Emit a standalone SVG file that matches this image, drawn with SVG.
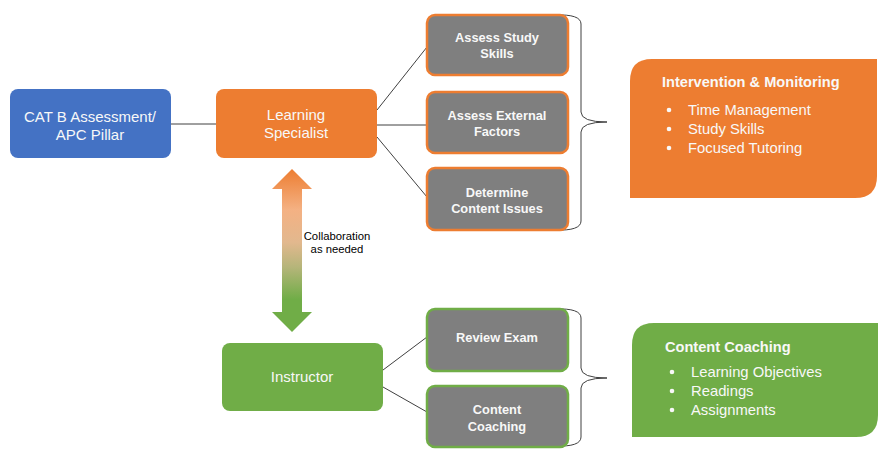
<svg xmlns="http://www.w3.org/2000/svg" width="882" height="450" viewBox="0 0 882 450">
<defs>
<linearGradient id="arrowGrad" x1="0" y1="169" x2="0" y2="332" gradientUnits="userSpaceOnUse">
<stop offset="0" stop-color="#ED7D31"/>
<stop offset="0.25" stop-color="#F4B183"/>
<stop offset="0.45" stop-color="#E2B88E"/>
<stop offset="0.6" stop-color="#B6B57A"/>
<stop offset="0.8" stop-color="#70AD47"/>
<stop offset="1" stop-color="#70AD47"/>
</linearGradient>
</defs>
<style>
.t{font-family:"Liberation Sans",Arial,sans-serif;fill:#F8F8F8;text-anchor:middle;}
.big{font-size:15px;}
.gb{font-size:12.8px;font-weight:bold;}
.gray{fill:#7F7F7F;stroke-width:2.5;}
.ob{stroke:#ED7D31;}
.grb{stroke:#70AD47;}
.conn{stroke:#404040;stroke-width:1;fill:none;}
.list{font-family:"Liberation Sans",Arial,sans-serif;fill:#F8F8F8;font-size:14.8px;}
.title{font-weight:bold;font-size:14.6px;}
.dot{fill:#F8F8F8;}
.lbl{font-family:"Liberation Sans",Arial,sans-serif;font-size:11.3px;fill:#000;text-anchor:middle;}
</style>
<rect width="882" height="450" fill="#FFFFFF"/>
<g id="connectors">
<line class="conn" x1="171" y1="124" x2="216" y2="124"/>
<line class="conn" x1="377" y1="110" x2="427" y2="47"/>
<line class="conn" x1="377" y1="125" x2="427" y2="125"/>
<line class="conn" x1="377" y1="137" x2="427" y2="197"/>
<line class="conn" x1="383" y1="370" x2="427" y2="337"/>
<line class="conn" x1="383" y1="387" x2="427" y2="412"/>
<path class="conn" d="M555,15 Q581,14 581,24 L581,112 Q581,122 607,122 Q581,122 581,132 L581,221 Q581,231 555,230"/>
<path class="conn" d="M555,309 Q581,308 581,318 L581,368 Q581,378 607,378 Q581,378 581,388 L581,437 Q581,447 555,446"/>
</g>
<g id="collab">
<polygon points="292,169 312,189 302,189 302,312 312,312 292,332 272,312 282,312 282,189 272,189" fill="url(#arrowGrad)"/>
<text class="lbl" x="337" y="240">Collaboration</text>
<text class="lbl" x="337" y="253">as needed</text>
</g>
<g id="cat">
<rect x="10" y="89" width="161" height="69" rx="8" fill="#4472C4"/>
<text class="t big" x="90" y="122">CAT B Assessment/</text>
<text class="t big" x="90" y="140">APC Pillar</text>
</g>
<g id="specialist">
<rect x="216" y="89" width="161" height="69" rx="8" fill="#ED7D31"/>
<text class="t big" x="296" y="120">Learning</text>
<text class="t big" x="296" y="138">Specialist</text>
</g>
<g id="instructor">
<rect x="222" y="343" width="161" height="68" rx="8" fill="#70AD47"/>
<text class="t big" x="302" y="382">Instructor</text>
</g>
<g id="studyskills">
<rect class="gray ob" x="427" y="15" width="141" height="60" rx="8"/>
<text class="t gb" x="497" y="42">Assess Study</text>
<text class="t gb" x="497" y="58">Skills</text>
</g>
<g id="external">
<rect class="gray ob" x="427" y="92" width="141" height="61" rx="8"/>
<text class="t gb" x="497" y="120">Assess External</text>
<text class="t gb" x="497" y="136">Factors</text>
</g>
<g id="content">
<rect class="gray ob" x="427" y="168" width="141" height="62" rx="8"/>
<text class="t gb" x="497" y="197">Determine</text>
<text class="t gb" x="497" y="213">Content Issues</text>
</g>
<g id="review">
<rect class="gray grb" x="427" y="309" width="141" height="62" rx="8"/>
<text class="t gb" x="497" y="342">Review Exam</text>
</g>
<g id="coaching">
<rect class="gray grb" x="427" y="386" width="141" height="61" rx="8"/>
<text class="t gb" x="497" y="414">Content</text>
<text class="t gb" x="497" y="431">Coaching</text>
</g>
<g id="intervention">
<path d="M652,59 L877,59 L877,176 Q877,198 855,198 L630,198 L630,81 Q630,59 652,59 Z" fill="#ED7D31"/>
<text class="list title" x="662" y="87">Intervention &amp; Monitoring</text>
<circle class="dot" cx="669" cy="110" r="2.3"/>
<circle class="dot" cx="669" cy="129" r="2.3"/>
<circle class="dot" cx="669" cy="148" r="2.3"/>
<text class="list" x="688" y="115">Time Management</text>
<text class="list" x="688" y="134">Study Skills</text>
<text class="list" x="688" y="153">Focused Tutoring</text>
</g>
<g id="coachingpanel">
<path d="M654,323 L878,323 L878,415 Q878,437 856,437 L632,437 L632,345 Q632,323 654,323 Z" fill="#70AD47"/>
<text class="list title" x="665" y="352">Content Coaching</text>
<circle class="dot" cx="672" cy="372" r="2.3"/>
<circle class="dot" cx="672" cy="391" r="2.3"/>
<circle class="dot" cx="672" cy="410" r="2.3"/>
<text class="list" x="691" y="377">Learning Objectives</text>
<text class="list" x="691" y="396">Readings</text>
<text class="list" x="691" y="415">Assignments</text>
</g>
</svg>
